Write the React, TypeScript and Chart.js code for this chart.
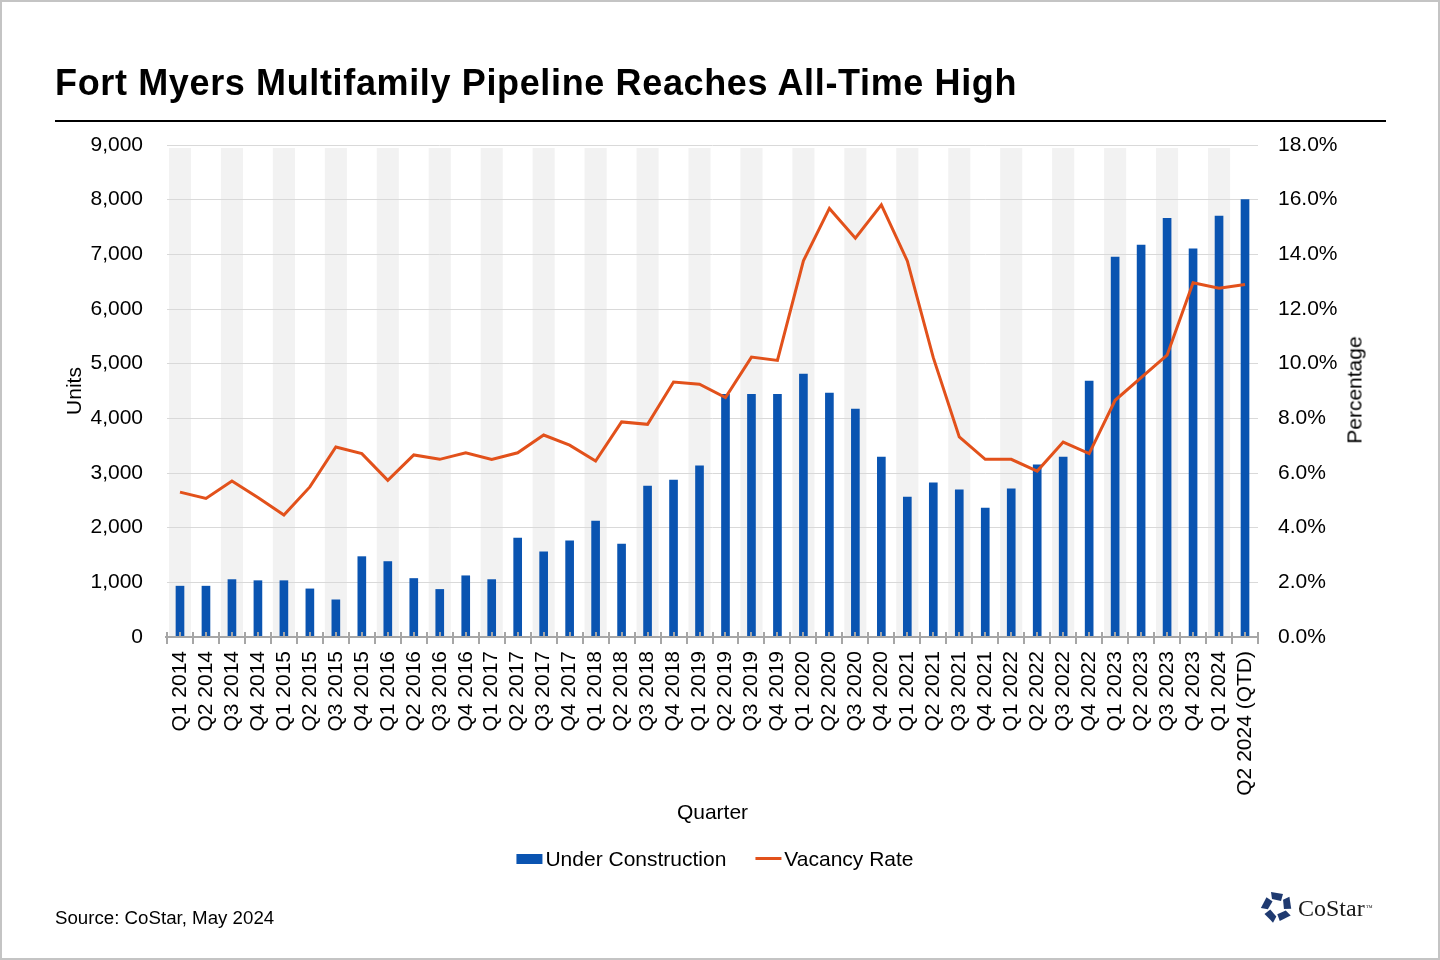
import React, { useEffect, useRef } from "react";
import { Chart, registerables } from "chart.js";

Chart.register(...registerables);

const quarters = [
  "Q1 2014", "Q2 2014", "Q3 2014", "Q4 2014",
  "Q1 2015", "Q2 2015", "Q3 2015", "Q4 2015",
  "Q1 2016", "Q2 2016", "Q3 2016", "Q4 2016",
  "Q1 2017", "Q2 2017", "Q3 2017", "Q4 2017",
  "Q1 2018", "Q2 2018", "Q3 2018", "Q4 2018",
  "Q1 2019", "Q2 2019", "Q3 2019", "Q4 2019",
  "Q1 2020", "Q2 2020", "Q3 2020", "Q4 2020",
  "Q1 2021", "Q2 2021", "Q3 2021", "Q4 2021",
  "Q1 2022", "Q2 2022", "Q3 2022", "Q4 2022",
  "Q1 2023", "Q2 2023", "Q3 2023", "Q4 2023",
  "Q1 2024", "Q2 2024 (QTD)",
];

const underConstruction = [
  930, 930, 1050, 1030,
  1030, 880, 680, 1470,
  1380, 1070, 870, 1120,
  1050, 1810, 1560, 1760,
  2120, 1700, 2760, 2870,
  3130, 4440, 4440, 4440,
  4810, 4460, 4170, 3290,
  2560, 2820, 2690, 2360,
  2710, 3150, 3290, 4680,
  6950, 7170, 7660, 7100,
  7700, 8000,
];

const vacancyRate = [
  5.3, 5.07, 5.71, 5.1,
  4.46, 5.49, 6.95, 6.71,
  5.73, 6.66, 6.5, 6.74,
  6.5, 6.74, 7.39, 7.02,
  6.44, 7.87, 7.78, 9.33,
  9.25, 8.76, 10.24, 10.12,
  13.76, 15.68, 14.59, 15.81,
  13.76, 10.22, 7.32, 6.5,
  6.5, 6.07, 7.13, 6.71,
  8.66, 9.49, 10.31, 12.96,
  12.76, 12.9,
];

const unitsRange = [0, 9000, 1000];
const percentRange = [0, 18, 2];

const TITLE = "Fort Myers Multifamily Pipeline Reaches All-Time High";
const SERIES_BAR = "Under Construction";
const SERIES_LINE = "Vacancy Rate";
const SOURCE = "Source: CoStar, May 2024";

const BAR_COLOR = "#0A54B1";
const LINE_COLOR = "#E2511B";
const AXIS_GREY = "#A6A6A6";
const FONT = '"Liberation Sans", Arial, Helvetica, sans-serif';
const SERIF = '"Liberation Serif", "Times New Roman", serif';

const bandsPlugin = {
  id: "bands",
  beforeDraw(chart: any) {
    const { ctx, chartArea, scales } = chart;
    const x = scales.x;
    if (!x || !chartArea) return;
    const step = x.getPixelForTick(1) - x.getPixelForTick(0);
    const w = step * 0.85;
    ctx.save();
    ctx.fillStyle = "#F2F2F2";
    for (let i = 0; i < quarters.length; i += 2) {
      const cx = x.getPixelForTick(i);
      ctx.fillRect(cx - w / 2, chartArea.top + 3, w, chartArea.bottom - chartArea.top - 3);
    }
    ctx.restore();
  },
};

const axisPlugin = {
  id: "axisMarks",
  afterDatasetsDraw(chart: any) {
    const { ctx, chartArea, scales } = chart;
    const x = scales.x;
    if (!x || !chartArea) return;
    const step = x.getPixelForTick(1) - x.getPixelForTick(0);
    const b = chartArea.bottom;
    ctx.save();
    ctx.strokeStyle = AXIS_GREY;
    ctx.lineWidth = 2;
    ctx.beginPath();
    ctx.moveTo(chartArea.left - 2, b);
    ctx.lineTo(chartArea.right + 1, b);
    for (let i = 0; i <= quarters.length; i++) {
      const px = Math.round(x.getPixelForTick(Math.min(i, quarters.length - 1)) + (i === quarters.length ? step / 2 : -step / 2));
      ctx.moveTo(px, b - 5);
      ctx.lineTo(px, b + 7);
    }
    for (let i = 0; i < quarters.length; i++) {
      const px = Math.round(x.getPixelForTick(i));
      ctx.moveTo(px, b - 5);
      ctx.lineTo(px, b);
    }
    ctx.stroke();
    ctx.restore();
  },
};

function Logo() {
  const pieces = [0, 72, 144, 216, 288];
  return (
    <svg
      width="34"
      height="34"
      viewBox="-17 -17 34 34"
      style={{ position: "absolute", left: 1260, top: 890 }}
    >
      {pieces.map((r) => (
        <g key={r} transform={`rotate(${r})`}>
          <polygon points="-6,-15 6,-13 4,-6 -5,-8" fill="#1F3A70" />
        </g>
      ))}
    </svg>
  );
}

export default function App() {
  const canvasRef = useRef<HTMLCanvasElement | null>(null);

  useEffect(() => {
    if (!canvasRef.current) return;
    Chart.defaults.font.family = FONT;
    Chart.defaults.color = "#000";
    const tickFont = { family: FONT, size: 21 };
    const chart = new Chart(canvasRef.current, {
      type: "bar",
      data: {
        labels: quarters,
        datasets: [
          {
            type: "line",
            label: SERIES_LINE,
            data: vacancyRate,
            yAxisID: "y1",
            borderColor: LINE_COLOR,
            backgroundColor: LINE_COLOR,
            borderWidth: 3,
            pointRadius: 0,
            tension: 0,
            fill: false,
            order: 0,
          } as any,
          {
            type: "bar",
            label: SERIES_BAR,
            data: underConstruction,
            yAxisID: "y",
            backgroundColor: BAR_COLOR,
            borderWidth: 0,
            barThickness: 8,
            order: 1,
          },
        ],
      },
      options: {
        responsive: false,
        animation: false,
        devicePixelRatio: 1,
        layout: { padding: { left: 55, right: 60, top: 145, bottom: 134 } },
        plugins: {
          legend: { display: false },
          tooltip: { enabled: false },
          title: { display: false },
        },
        scales: {
          x: {
            type: "category",
            offset: true,
            grid: { display: false, drawTicks: false },
            border: { display: false },
            ticks: {
              autoSkip: false,
              maxRotation: 90,
              minRotation: 90,
              padding: 14,
              color: "#000",
              font: tickFont,
            },
            title: {
              display: true,
              text: "Quarter",
              color: "#000",
              font: tickFont,
              padding: { top: 0, bottom: 0 },
            },
            afterFit: (s: any) => {
              s.height = 189;
            },
          },
          y: {
            position: "left",
            min: unitsRange[0],
            max: unitsRange[1],
            ticks: {
              stepSize: unitsRange[2],
              padding: 24,
              color: "#000",
              font: tickFont,
              callback: (v: any) => Number(v).toLocaleString("en-US"),
            },
            grid: { color: "#D9D9D9", lineWidth: 1, drawTicks: false },
            border: { display: false },
            title: {
              display: true,
              text: "Units",
              color: "#000",
              font: tickFont,
              padding: { top: 8, bottom: 0 },
            },
            afterFit: (s: any) => {
              s.width = 112;
            },
          },
          y1: {
            position: "right",
            min: percentRange[0],
            max: percentRange[1],
            ticks: {
              stepSize: percentRange[2],
              padding: 20,
              color: "#000",
              font: tickFont,
              callback: (v: any) => Number(v).toFixed(1) + "%",
            },
            grid: { display: false, drawTicks: false },
            border: { display: false },
            afterFit: (s: any) => {
              s.width = 122;
            },
          },
        },
      } as any,
      plugins: [bandsPlugin, axisPlugin],
    });
    return () => chart.destroy();
  }, []);

  return (
    <div
      style={{
        position: "absolute",
        left: 0,
        top: 0,
        width: 1440,
        height: 960,
        background: "#fff",
        overflow: "hidden",
        fontFamily: FONT,
        color: "#000",
      }}
    >
      <canvas
        ref={canvasRef}
        width={1440}
        height={960}
        style={{ position: "absolute", left: 0, top: 0, width: 1440, height: 960 }}
      />
      <div
        style={{
          position: "absolute",
          left: 55,
          top: 65,
          fontSize: 36,
          lineHeight: "36px",
          fontWeight: "bold",
          letterSpacing: "0.64px",
          whiteSpace: "nowrap",
        }}
      >
        {TITLE}
      </div>
      <div
        style={{
          position: "absolute",
          left: 55,
          top: 120,
          width: 1331,
          height: 2,
          background: "#000",
        }}
      />
      <div
        style={{
          position: "absolute",
          left: 1354,
          top: 390,
          fontSize: 21,
          lineHeight: "21px",
          whiteSpace: "nowrap",
          transform: "translate(-50%, -50%) rotate(-90deg)",
        }}
      >
        Percentage
      </div>
      <div
        style={{
          position: "absolute",
          left: 715,
          top: 848,
          height: 21,
          transform: "translateX(-50%)",
          display: "flex",
          alignItems: "center",
          fontSize: 21,
          lineHeight: "21px",
          whiteSpace: "nowrap",
        }}
      >
        <span style={{ display: "inline-block", width: 26, height: 10, background: BAR_COLOR, marginRight: 3 }} />
        <span>{SERIES_BAR}</span>
        <span style={{ display: "inline-block", width: 26, height: 3, background: LINE_COLOR, marginLeft: 29, marginRight: 3 }} />
        <span>{SERIES_LINE}</span>
      </div>
      <div
        style={{
          position: "absolute",
          left: 55,
          top: 909,
          fontSize: 18.7,
          lineHeight: "18.7px",
          whiteSpace: "nowrap",
        }}
      >
        {SOURCE}
      </div>
      <Logo />
      <div
        style={{
          position: "absolute",
          left: 1298,
          top: 896,
          fontFamily: SERIF,
          fontSize: 24,
          lineHeight: "24px",
          color: "#1A1A1A",
          whiteSpace: "nowrap",
        }}
      >
        CoStar
        <span style={{ fontSize: 7, verticalAlign: "top", marginLeft: 1 }}>™</span>
      </div>
      <div
        style={{
          position: "absolute",
          left: 0,
          top: 0,
          width: 1440,
          height: 960,
          boxSizing: "border-box",
          border: "2px solid #C4C4C4",
          pointerEvents: "none",
        }}
      />
    </div>
  );
}
